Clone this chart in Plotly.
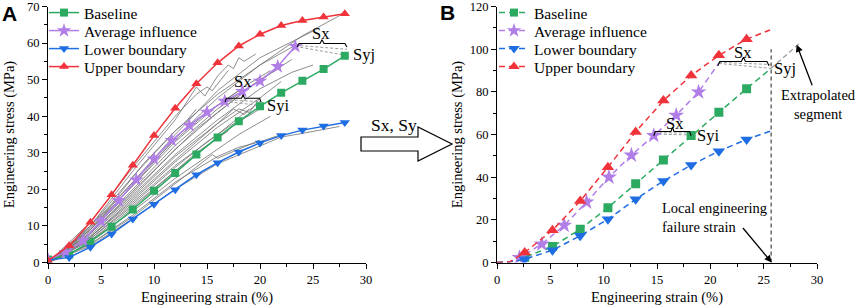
import plotly.graph_objects as go

W, H = 858, 308
SERIF = "'Liberation Serif', 'Times New Roman', Tinos, serif"

# ---------------- Panel A data ----------------
A_x = [0, 2, 4, 6, 8, 10, 12, 14, 16, 18, 20, 22, 24, 26, 28]
A_upper = [0.5, 4.6, 11.0, 18.5, 26.6, 34.7, 42.2, 48.9, 54.6, 59.2, 62.4, 64.8, 66.2, 67.1, 68.0]
A_base = [0.8, 2.2, 5.7, 9.8, 14.5, 19.6, 24.5, 29.5, 34.2, 38.6, 42.7, 46.4, 49.7, 52.9, 56.5]
A_lower = [0.6, 1.4, 4.2, 7.8, 11.9, 15.9, 19.9, 24.0, 27.3, 30.2, 32.7, 34.7, 36.2, 37.3, 38.3]
A_avg_x = [0, 1.67, 3.33, 5, 6.67, 8.33, 10, 11.67, 13.33, 15, 16.67, 18.33, 20, 21.67, 23.33]
A_avg = [0.8, 2.8, 6.0, 11.3, 16.9, 22.6, 28.3, 33.4, 37.5, 41.1, 44.1, 46.8, 49.6, 53.6, 59.1]

# individual test curves (gray)
A_gray = [
    ([0, 4, 8, 12, 16, 20, 24, 27.5], [0, 9, 21, 34, 45, 54, 62, 67.5]),
    ([0, 4, 8, 12, 16, 20, 25.5], [0, 9.5, 22, 35, 47, 56, 64]),
    ([0, 4, 8, 10, 12, 14, 14.8, 16, 17, 17.5, 18, 18.5, 19.6], [0, 10, 25, 32, 39, 48, 45.5, 51, 54, 53, 56, 55, 57]),
    ([0, 4, 8, 12, 14, 15, 15.5, 17], [0, 11, 26, 40, 46, 48, 47, 52.5]),
    ([0, 4, 8, 12, 16, 20, 23], [0, 8, 19, 31, 41, 50, 55.5]),
    ([0, 4, 8, 12, 16, 19, 22], [0, 8.5, 20, 32, 42, 48, 53.5]),
    ([0, 4, 8, 12, 16, 18, 19, 20], [0, 7.5, 18, 29, 38, 42, 41, 45]),
    ([0, 4, 8, 12, 16, 20, 22], [0, 7, 17, 27.5, 37, 45, 49.5]),
    ([0, 4, 8, 12, 16, 18, 20], [0, 6.5, 15.5, 25, 34, 38.5, 42]),
    ([0, 4, 8, 12, 16, 18, 21], [0, 6, 14, 23, 31, 35, 40]),
    ([0, 4, 8, 12, 15, 17, 19], [0, 6.5, 16, 26, 33, 37, 40.5]),
    ([0, 4, 8, 12, 14, 17], [0, 6, 15, 25, 30, 36]),
    ([0, 4, 8, 12, 14, 15.5, 16, 18, 20], [0, 5, 12.5, 21.5, 26, 29.5, 28.5, 31, 33.5]),
    ([0, 4, 8, 12, 16, 20, 22, 24, 25, 27.5], [0, 4.5, 12, 20, 27, 32, 34.3, 35.3, 35.8, 37.2]),
    ([0, 4, 8, 12, 16, 18, 20, 22], [0, 5, 13, 22, 29, 31.5, 33, 35]),
    ([0, 4, 8, 12, 15, 18], [0, 9, 22, 33.5, 41, 47]),
    ([0, 4, 8, 12, 16, 19, 21], [0, 9, 21, 33, 43, 49, 52.5]),
    ([0, 3, 6, 9, 11, 12, 13, 14], [0, 7, 16, 27, 33, 36, 38.5, 42]),
    ([0, 4, 8, 12, 16, 19], [0, 7, 16.5, 26.5, 35, 42]),
    ([0, 4, 8, 12, 16, 20, 23, 25], [0, 8, 18.5, 29.5, 39, 47.5, 52, 54]),
    ([0, 4, 8, 12, 16, 20, 23.4], [0, 10, 23.5, 36, 46, 54, 59.5]),
    ([0, 4, 8, 12, 16, 17.5, 18.5, 20], [0, 7, 17.5, 28, 38, 42, 40.5, 44]),
    ([0, 4, 8, 12, 14, 16, 18], [0, 8, 19.5, 31, 36.5, 41, 45.5]),
]

# ---------------- Panel B data ----------------
B_x = [2.6, 5.2, 7.8, 10.4, 13.0, 15.6, 18.2, 20.8, 23.4]
B_upper = [4.7, 15.1, 28.8, 44.7, 61.2, 75.9, 87.6, 97.1, 104.7]
B_base = [2.5, 7.5, 15.6, 25.7, 36.9, 48.0, 59.5, 70.4, 81.5]
B_lower = [1.5, 5.8, 12.5, 20.3, 29.6, 38.2, 45.7, 52.2, 57.7]
B_avg_x = [2.1, 4.2, 6.3, 8.4, 10.5, 12.6, 14.7, 16.8, 18.9]
B_avg = [2.3, 8.6, 17.4, 28.3, 40.0, 50.3, 59.5, 69.0, 79.9]
# line starts / ends (without markers)
B_start_x = [0, 1.2]
B_start_y = [0, 0.3]
B_upper_end = (25.6, 109.0)
B_base_end = (25.7, 91.0)
B_lower_end = (25.6, 61.5)
B_avg_end = (20.8, 93.5)
B_extrap = ([25.7, 28.3], [91.0, 102.5])
B_failure_x = 25.7
B_failure_top = 100

names = ["Baseline", "Average influence", "Lower boundary", "Upper boundary"]
colors = ["#2DAA62", "#B07EE6", "#1F6DE3", "#F0333A"]
symbols = ["square", "star", "triangle-down", "triangle-up"]
legend_rows = [13, 31, 49, 67]   # pixel rows of the legend entries

fig = go.Figure()

# gray test curves
for gx, gy in A_gray:
    fig.add_trace(go.Scatter(x=gx, y=gy, mode="lines", line=dict(color="#707070", width=0.8),
                             showlegend=False, hoverinfo="skip", xaxis="x", yaxis="y"))


def brace(x0, x1, y, h, xref, yref, color="black"):
    xm = (x0 + x1) / 2
    d = (x1 - x0) * 0.04
    xs = [x0, x0 + d, xm - d, xm, xm + d, x1 - d, x1]
    ys = [y - h, y, y, y + h, y, y, y - h]
    fig.add_trace(go.Scatter(x=xs, y=ys, mode="lines", line=dict(color=color, width=1.1),
                             showlegend=False, hoverinfo="skip", xaxis=xref, yaxis=yref))


def dashed(xs, ys, xref, yref, color="#9a9a9a", width=1, dash="3px,2px"):
    fig.add_trace(go.Scatter(x=xs, y=ys, mode="lines", line=dict(color=color, width=width, dash=dash),
                             showlegend=False, hoverinfo="skip", xaxis=xref, yaxis=yref))


# hint dashed lines panel A
dashed([23.33, 28.2], [59.1, 56.6], "x", "y")
dashed([23.33, 28.2], [59.4, 58.3], "x", "y")
dashed([16.67, 20.0], [44.1, 42.9], "x", "y")
dashed([16.67, 20.0], [44.5, 44.0], "x", "y")

# panel A series
A_series = [(A_x, A_base), (A_avg_x, A_avg), (A_x, A_lower), (A_x, A_upper)]
msizes_A = [8, 11, 9, 9]
for i, (xx, yy) in enumerate(A_series):
    fig.add_trace(go.Scatter(x=xx, y=yy, mode="lines+markers", name=names[i],
                             line=dict(color=colors[i], width=1.5),
                             marker=dict(symbol=symbols[i], size=msizes_A[i], color=colors[i]),
                             legend=("legend" if i == 0 else f"legend{i + 1}"),
                             xaxis="x", yaxis="y", hoverinfo="skip"))

brace(23.5, 28.2, 59.9, 1.0, "x", "y")
brace(16.7, 20.1, 44.9, 1.0, "x", "y")

# panel B helper lines
dashed(B_extrap[0], B_extrap[1], "x2", "y2", color="#9a9a9a", width=1.2, dash="5px,3px")
dashed([B_failure_x, B_failure_x], [0, B_failure_top], "x2", "y2", color="#333333", width=1.1, dash="4px,3px")
dashed([20.8, 25.7], [93.3, 91.0], "x2", "y2")
dashed([20.8, 25.7], [93.8, 92.8], "x2", "y2")
dashed([14.7, 18.2], [60.2, 59.8], "x2", "y2")
dashed([14.7, 18.2], [60.8, 60.8], "x2", "y2")

B_series = [
    (B_x, B_base, B_base_end),
    (B_avg_x, B_avg, B_avg_end),
    (B_x, B_lower, B_lower_end),
    (B_x, B_upper, B_upper_end),
]
msizes_B = [9, 12, 11, 11]
for i, (xx, yy, end) in enumerate(B_series):
    lx = B_start_x + xx + [end[0]]
    ly = B_start_y + yy + [end[1]]
    fig.add_trace(go.Scatter(x=lx, y=ly, mode="lines", line=dict(color=colors[i], width=1.5, dash="6px,4px"),
                             showlegend=False, hoverinfo="skip", xaxis="x2", yaxis="y2"))
    fig.add_trace(go.Scatter(x=xx, y=yy, mode="markers",
                             marker=dict(symbol=symbols[i], size=msizes_B[i], color=colors[i]),
                             showlegend=False, hoverinfo="skip", xaxis="x2", yaxis="y2"))
    # legend entry
    fig.add_trace(go.Scatter(x=[None], y=[None], mode="lines+markers", name=names[i],
                             line=dict(color=colors[i], width=1.5, dash="6px,4px"),
                             marker=dict(symbol=symbols[i], size=msizes_B[i] - 1, color=colors[i]),
                             legend=f"legend{i + 5}", xaxis="x2", yaxis="y2"))

brace(20.7, 25.5, 94.2, 2.0, "x2", "y2")
brace(14.7, 18.2, 61.4, 2.0, "x2", "y2")


def px(xp):
    return xp / W


def py(yp):
    return 1 - yp / H


# axes
def axis_style(rng, dtick, minor, title, domain, anchor, standoff):
    return dict(range=rng, dtick=dtick, tick0=0, domain=domain, anchor=anchor, automargin=False,
                showline=True, linecolor="black", linewidth=1, mirror=False,
                ticks="outside", ticklen=5, tickwidth=1, tickcolor="black",
                minor=dict(dtick=minor, ticks="outside", ticklen=3, tickwidth=1, tickcolor="black", showgrid=False),
                showgrid=False, zeroline=False, ticklabeloverflow="allow",
                tickfont=dict(family=SERIF, size=12.5, color="black"),
                title=dict(text=title, font=dict(family=SERIF, size=14.5, color="black"), standoff=standoff))


ydom = [py(262.5), py(6.5)]
layout = dict(
    width=W, height=H, margin=dict(l=0, r=0, t=0, b=0, autoexpand=False),
    paper_bgcolor="white", plot_bgcolor="white",
    xaxis=axis_style([0, 30], 5, 2.5, "Engineering strain (%)", [px(48), px(366)], "y", 6),
    yaxis=axis_style([0, 70], 10, 5, "Engineering stress (MPa)", ydom, "x", 8),
    xaxis2=axis_style([0, 30], 5, 2.5, "Engineering strain (%)", [px(497), px(817)], "y2", 6),
    yaxis2=axis_style([0, 120], 20, 10, "Engineering stress (MPa)", ydom, "x2", 3),
    showlegend=True,
)
for k in range(8):
    key = "legend" if k == 0 else f"legend{k + 1}"
    lx = 44 if k < 4 else 494
    layout[key] = dict(x=px(lx), y=py(legend_rows[k % 4]), xanchor="left", yanchor="middle",
                       bgcolor="rgba(0,0,0,0)", font=dict(family=SERIF, size=15.5, color="black"),
                       itemwidth=30)
fig.update_layout(**layout)

# block arrow between panels
pts = [(361, 137), (418, 137), (418, 127), (452, 144), (418, 161), (418, 151), (361, 151)]
path = "M " + " L ".join(f"{px(a):.5f},{py(b):.5f}" for a, b in pts) + " Z"
fig.add_shape(type="path", path=path, xref="paper", yref="paper",
              line=dict(color="black", width=1.2), fillcolor="white")

ann = []


def text(x, y, s, xref, yref, size=16.5, xanchor="center", align="center", family=SERIF, bold=False):
    ann.append(dict(x=x, y=y, text=(f"<b>{s}</b>" if bold else s), xref=xref, yref=yref, showarrow=False,
                    xanchor=xanchor, yanchor="middle", align=align,
                    font=dict(family=family, size=size, color="black")))


text(px(393.5), py(124.5), "Sx, Sy", "paper", "paper", size=17.5)
text(px(9.5), py(14), "A", "paper", "paper", size=21, family="'Liberation Sans', Arial, sans-serif", bold=True)
text(px(447.5), py(12.5), "B", "paper", "paper", size=21, family="'Liberation Sans', Arial, sans-serif", bold=True)
# panel A labels
text(25.8, 62.7, "Sx", "x", "y")
text(29.8, 56.9, "Syj", "x", "y")
text(18.4, 49.5, "Sx", "x", "y")
text(21.7, 42.9, "Syi", "x", "y")
# panel B labels
text(23.1, 98.5, "Sx", "x2", "y2")
text(27.0, 90.8, "Syj", "x2", "y2")
text(16.7, 65.1, "Sx", "x2", "y2")
text(19.8, 59.3, "Syi", "x2", "y2")
text(px(818), py(105), "Extrapolated<br>segment", "paper", "paper", size=14.5)
text(px(660), py(217), "Local engineering<br>failure strain", "paper", "paper", size=14.5, xanchor="left", align="left")

# arrows
ann.append(dict(x=28.1, y=102.1, xref="x2", yref="y2", ax=16, ay=42, text="", showarrow=True,
                arrowhead=2, arrowsize=1.1, arrowwidth=1.3, arrowcolor="black"))
ann.append(dict(x=25.75, y=0, xref="x2", yref="y2", ax=-30, ay=-36, text="", showarrow=True,
                arrowhead=2, arrowsize=1.1, arrowwidth=1.3, arrowcolor="black"))

fig.update_layout(annotations=ann)

fig.write_html("out.html", config={"displayModeBar": False},
               post_script="document.body.style.margin='0';document.body.style.padding='0';"
                           "document.body.style.overflow='hidden';")
